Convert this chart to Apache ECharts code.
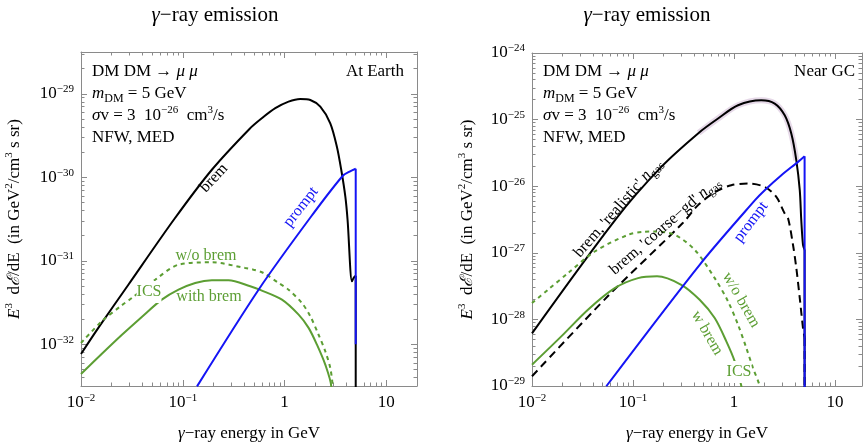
<!DOCTYPE html>
<html lang="en">
<head>
<meta charset="UTF-8">
<title>γ-ray emission</title>
<style>html,body{margin:0;padding:0;background:#fff;}</style>
</head>
<body>
<div id="main" style="width:863px;height:444px;"></div>
<script src="https://cdn.jsdelivr.net/npm/echarts@6/dist/echarts.min.js"></script>
<script type="text/javascript">
    // values: energy in GeV, E^3 dE/dE in GeV^2/cm^3 s sr
    // left panel, "At Earth"
    var earthBremE = [0.01, 0.0148, 0.0292, 0.0826, 0.193, 0.452, 0.598, 0.811, 1.094, 1.426, 1.791, 2.244, 2.812, 3.266, 3.606, 3.954, 4.159, 4.592, 4.764, 5.0, 5.0];
    var earthBremF = [7.64e-33, 1.57e-32, 5.16e-32, 3.16e-31, 1.23e-30, 3.79e-30, 5.09e-30, 6.71e-30, 8.04e-30, 8.65e-30, 8.41e-30, 7.0e-30, 4.43e-30, 2.32e-30, 1.22e-30, 5.85e-31, 3.08e-31, 5.68e-32, 6.21e-32, 6.6e-32, 1e-40];

    var earthPromptE = [0.138, 0.568, 1.778, 3.715, 4.355, 5.0, 5.0];
    var earthPromptF = [3.13e-33, 4.69e-32, 3.25e-31, 1.035e-30, 1.17e-30, 1.265e-30, 1.0e-32];

    var earthIcsNoBremE = [0.01, 0.016, 0.0251, 0.0316, 0.0536, 0.0908, 0.193, 0.411, 0.495, 0.621, 0.873, 1.094, 1.479, 1.791, 2.158, 2.512, 2.812, 2.965, 3.02];
    var earthIcsNoBremF = [1.035e-32, 1.88e-32, 2.92e-32, 3.58e-32, 5.93e-32, 8.97e-32, 9.57e-32, 8.18e-32, 7.82e-32, 7.13e-32, 5.42e-32, 4.5e-32, 3.12e-32, 2.16e-32, 1.3e-32, 8.24e-33, 5.2e-33, 3.13e-33, 1e-33];

    var earthIcsBremE = [0.01, 0.01585, 0.0251, 0.0398, 0.0622, 0.0908, 0.1324, 0.193, 0.281, 0.46, 0.577, 0.942, 1.374, 1.722, 2.08, 2.512, 2.877, 2.95];
    var earthIcsBremF = [4.41e-33, 7.59e-33, 1.29e-32, 2.14e-32, 3.42e-32, 4.5e-32, 5.42e-32, 5.83e-32, 5.83e-32, 4.94e-32, 4.47e-32, 3.42e-32, 2.26e-32, 1.57e-32, 9.89e-33, 5.69e-33, 3.13e-33, 1e-33];

    // right panel, "Near GC"
    var gcBremRealE = [0.01, 0.0679, 0.1905, 0.4467, 0.695, 1.096, 1.862, 2.529, 3.177, 3.69, 4.14, 4.477, 4.634, 4.82, 5.0, 5.0];
    var gcBremRealF = [6.18e-29, 3.24e-27, 1.95e-26, 6.31e-26, 1.038e-25, 1.64e-25, 1.95e-25, 1.74e-25, 1.16e-25, 6.18e-26, 2.45e-26, 8.71e-27, 3.09e-27, 1.32e-27, 1.11e-27, 1e-40];

    var gcBremCoarseE = [0.01, 0.0565, 0.3126, 0.4406, 0.644, 0.94, 1.377, 2.014, 2.624, 3.177, 3.428, 3.837, 4.14, 4.477, 4.82, 5.0, 5.0];
    var gcBremCoarseF = [1.4e-29, 2.24e-28, 2.82e-27, 5.2e-27, 8.1e-27, 1.035e-26, 1.096e-26, 9.77e-27, 6.92e-27, 3.89e-27, 3.31e-27, 1.32e-27, 5.89e-28, 2.09e-28, 7.41e-29, 5.25e-29, 1e-40];

    var gcPromptE = [0.0544, 0.457, 1.614, 2.014, 2.944, 4.305, 5.0, 5.0];
    var gcPromptF = [9.91e-30, 6.61e-28, 6.17e-27, 8.71e-27, 1.46e-26, 2.32e-26, 2.82e-26, 1e-30];

    var gcIcsNoBremE = [0.01, 0.01439, 0.0227, 0.0418, 0.0891, 0.1265, 0.164, 0.2588, 0.408, 0.644, 0.873, 1.096, 1.324, 1.542, 1.795, 1.862];
    var gcIcsNoBremF = [1.76e-28, 2.79e-28, 4.95e-28, 1.047e-27, 1.86e-27, 2.07e-27, 2.09e-27, 1.86e-27, 1.11e-27, 4.17e-28, 1.86e-28, 8.32e-29, 3.72e-29, 1.86e-29, 9.91e-30, 5e-30];

    var gcIcsBremE = [0.01, 0.0195, 0.0358, 0.0659, 0.1122, 0.173, 0.3006, 0.457, 0.644, 0.8395, 1.016, 1.183, 1.23];
    var gcIcsBremF = [2.09e-29, 5.56e-29, 1.4e-28, 2.95e-28, 4.17e-28, 4.44e-28, 3.31e-28, 1.97e-28, 1.047e-28, 4.68e-29, 2.34e-29, 9.91e-30, 5e-30];

    // axis ranges
    var xRangeLeft = [0.01, 20];
    var xRangeRight = [0.01, 18.5];
    var yRangeLeft = [Math.pow(10, -32.5), Math.pow(10, -28.5)];
    var yRangeRight = [1e-29, 1e-24];

    var SERIF = 'Liberation Serif';
    var FRAME = '#8a8a8a';
    var BLACK = '#000000';
    var BLUE = '#1414f5';
    var GREEN = '#5c9e33';

    var myChart = echarts.init(document.getElementById('main'));

    function toLog(e, f) {
        return e.map(function (v, i) { return [Math.log10(v), Math.log10(f[i])]; });
    }

    function decadeTicks(lo, hi) {
        var major = [], minor = [];
        for (var d = Math.floor(lo) - 1; d <= Math.ceil(hi); d++) {
            if (d >= lo - 1e-9 && d <= hi + 1e-9) major.push(d);
            for (var k = 2; k < 10; k++) {
                var v = d + Math.log10(k);
                if (v > lo && v < hi) minor.push(v);
            }
        }
        return {major: major, minor: minor};
    }

    function powLabel(v) {
        var n = Math.round(v);
        if (n === 0) return '1';
        if (n === 1) return '10';
        return '10{s|' + (n < 0 ? '\u2212' + (-n) : n) + '}';
    }

    var supRich = {
        s: {fontFamily: SERIF, fontSize: 11, verticalAlign: 'top', lineHeight: 11, color: '#000'},
        i: {fontFamily: SERIF, fontStyle: 'italic', fontSize: 17, color: '#000'}
    };

    // four axes per side pair: main (line, labels, major ticks), minor ticks, opposite major, opposite minor
    function frameAxes(dim, grid, range, nameText, nameGap) {
        var lo = Math.log10(range[0]), hi = Math.log10(range[1]);
        var t = decadeTicks(lo, hi);
        var sides = dim === 'x' ? ['bottom', 'top'] : ['left', 'right'];
        var list = [];
        sides.forEach(function (side, si) {
            [true, false].forEach(function (major) {
                var main = si === 0 && major;
                list.push({
                    type: 'value',
                    gridIndex: grid,
                    position: side,
                    min: lo,
                    max: hi,
                    name: main ? nameText : '',
                    nameLocation: 'middle',
                    nameGap: nameGap,
                    nameTextStyle: {fontFamily: SERIF, fontSize: 17, color: '#000', lineHeight: 22, rich: supRich},
                    axisLine: {show: major, onZero: false, lineStyle: {color: FRAME, width: 1}},
                    axisTick: {
                        show: true, inside: true, length: major ? 6 : 3.5,
                        customValues: major ? t.major : t.minor,
                        lineStyle: {color: FRAME, width: 1}
                    },
                    axisLabel: {
                        show: main, customValues: t.major, formatter: powLabel,
                        fontFamily: SERIF, fontSize: 17, color: '#000', lineHeight: 20,
                        margin: 7, rich: supRich
                    },
                    splitLine: {show: false}
                });
            });
        });
        return list;
    }

    // a curve is smoothed; a final vertical drop at the kinematic endpoint is drawn straight
    function curve(grid, e, f, color, dash) {
        var pts = toLog(e, f);
        var n = pts.length;
        var body = pts, drop = null;
        if (n > 2 && pts[n - 1][0] === pts[n - 2][0]) {
            body = pts.slice(0, n - 1);
            drop = pts.slice(n - 2);
        }
        var base = {
            type: 'line',
            xAxisIndex: grid * 4,
            yAxisIndex: grid * 4,
            symbol: 'none',
            lineStyle: {color: color, width: 2, type: dash || 'solid'},
            silent: true,
            animation: false
        };
        var out = [Object.assign({}, base, {data: body, smooth: 0.3})];
        if (drop) out.push(Object.assign({}, base, {data: drop}));
        return out;
    }

    // faint band under the GC brem curve near its peak
    var bandData = toLog(gcBremRealE, gcBremRealF).filter(function (p) { return p[0] > -0.5 && p[0] < 0.63; });

    var yName = '{i|E}{s|3}  d{i|\u2130}/dE  (in GeV{s|2}/cm{s|3} s sr)';
    var xName = '{i|\u03b3}\u2212ray energy in GeV';

    function txt(x, y, text, opt) {
        opt = opt || {};
        var c = opt.color || '#000';
        var sz = opt.size || 17;
        return {
            type: 'text', x: x, y: y,
            rotation: (opt.rot || 0) * Math.PI / 180,
            z: 100,
            style: {
                text: text,
                fontFamily: SERIF,
                fontSize: sz,
                lineHeight: 22,
                fill: c,
                align: opt.align || 'left',
                verticalAlign: 'middle',
                backgroundColor: opt.bg,
                rich: {
                    i: {fontFamily: SERIF, fontStyle: 'italic', fontSize: sz, fill: c},
                    s: {fontFamily: SERIF, fontSize: 11, verticalAlign: 'top', lineHeight: 11, fill: c},
                    b: {fontFamily: SERIF, fontSize: 12, verticalAlign: 'bottom', lineHeight: 12, fill: c}
                }
            }
        };
    }

    function infoBlock(x) {
        return [
            txt(x, 72, 'DM DM \u2192 {i|\u03bc \u03bc}'),
            txt(x, 94, '{i|m}{b|DM} = 5 GeV'),
            txt(x, 116, '{i|\u03c3}v = 3  10{s|\u221226}  cm{s|3}/s'),
            txt(x, 138, 'NFW, MED')
        ];
    }

    var series = [].concat(
        curve(0, earthBremE, earthBremF, BLACK),
        curve(0, earthIcsNoBremE, earthIcsNoBremF, GREEN, [4, 4]),
        curve(0, earthIcsBremE, earthIcsBremF, GREEN),
        curve(0, earthPromptE, earthPromptF, BLUE),
        [{
            type: 'line', xAxisIndex: 4, yAxisIndex: 4, data: bandData, symbol: 'none', silent: true,
            smooth: 0.3, lineStyle: {color: 'rgba(200,170,205,0.45)', width: 6}
        }],
        curve(1, gcBremRealE, gcBremRealF, BLACK),
        curve(1, gcBremCoarseE, gcBremCoarseF, BLACK, [8, 5]),
        curve(1, gcIcsNoBremE, gcIcsNoBremF, GREEN, [4, 4]),
        curve(1, gcIcsBremE, gcIcsBremF, GREEN),
        curve(1, gcPromptE, gcPromptF, BLUE)
    );

    var option = {
        backgroundColor: '#ffffff',
        animation: false,
        grid: [
            {left: 81, top: 52, width: 336, height: 334, outerBoundsMode: 'none'},
            {left: 532, top: 53, width: 330, height: 333, outerBoundsMode: 'none'}
        ],
        xAxis: frameAxes('x', 0, xRangeLeft, xName, 37).concat(frameAxes('x', 1, xRangeRight, xName, 37)),
        yAxis: frameAxes('y', 0, yRangeLeft, yName, 55).concat(frameAxes('y', 1, yRangeRight, yName, 53)),
        series: series,
        graphic: [
            txt(215, 15, '{i|\u03b3}\u2212ray emission', {align: 'center', size: 21}),
            txt(647, 15, '{i|\u03b3}\u2212ray emission', {align: 'center', size: 21}),
            txt(404, 72, 'At Earth', {align: 'right'}),
            txt(855, 72, 'Near GC', {align: 'right'}),
            txt(214, 178, 'brem', {align: 'center', rot: 47, size: 16}),
            txt(301, 207, 'prompt', {align: 'center', rot: 52, size: 16, color: BLUE}),
            txt(206, 256, 'w/o brem', {align: 'center', size: 16, color: GREEN}),
            txt(149, 292, 'ICS', {align: 'center', size: 16, color: GREEN, bg: '#fff'}),
            txt(209, 297, 'with brem', {align: 'center', size: 16, color: GREEN}),
            txt(618, 208, "brem, 'realistic' {i|n}{b|gas}", {align: 'center', rot: 49, size: 16}),
            txt(665, 226, "brem, 'coarse\u2212gd' {i|n}{b|gas}", {align: 'center', rot: 41, size: 16}),
            txt(751, 222, 'prompt', {align: 'center', rot: 53, size: 16, color: BLUE}),
            txt(741, 300, 'w/o brem', {align: 'center', rot: -60, size: 16, color: GREEN}),
            txt(707, 333, 'w brem', {align: 'center', rot: -60, size: 16, color: GREEN}),
            txt(739, 372, 'ICS', {align: 'center', size: 16, color: GREEN, bg: '#fff'})
        ].concat(infoBlock(92), infoBlock(543))
    };

    myChart.setOption(option);
</script>
</body>
</html>
